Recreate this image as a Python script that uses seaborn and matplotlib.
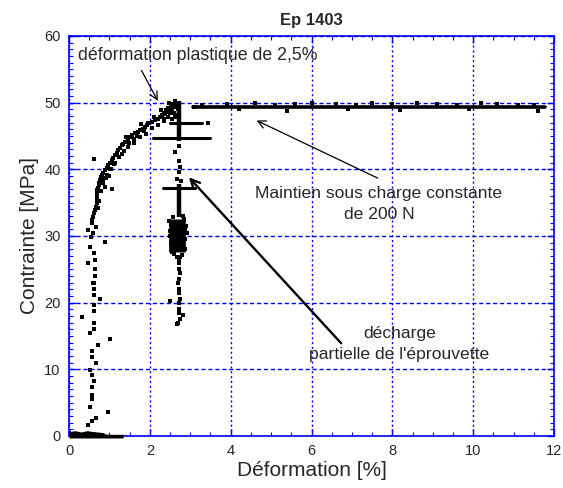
import numpy as np
import pandas as pd
import matplotlib
matplotlib.use("Agg")
import matplotlib.pyplot as plt
import seaborn as sns

sns.set_theme(style="white")
plt.rcParams['font.family'] = ['Liberation Sans', 'DejaVu Sans']

# ---------------- data ----------------
title = "Ep 1403"
x_label = "Déformation [%]"
y_label = "Contrainte [MPa]"
x_ticks = [0, 2, 4, 6, 8, 10, 12]
y_ticks = [0, 10, 20, 30, 40, 50, 60]

# loading curve (upper part, band of points)
load_x = [2.66, 2.60, 2.54, 2.48, 2.42, 2.38, 2.31, 2.25, 2.19, 2.13, 2.05, 1.96, 1.92,
          1.88, 1.82, 1.76, 1.70, 1.63, 1.57, 1.51, 1.45, 1.39, 1.34, 1.30, 1.26, 1.22,
          1.18, 1.14, 1.10, 1.06, 1.01, 0.97, 0.93, 0.89, 0.85, 0.81, 0.79, 0.77, 0.75,
          0.73, 0.71, 0.69, 0.69, 0.70, 0.68, 0.69, 0.67, 0.64, 0.62, 0.60, 0.58, 0.56,
          2.50, 2.35, 2.20, 2.05, 1.90, 1.75, 1.60, 1.45, 1.30, 1.15, 1.05, 0.95, 0.85,
          0.80, 1.06, 0.89, 0.75, 0.72, 1.62, 1.36, 1.12, 0.98, 0.83,
          2.10, 1.85, 1.68, 1.48, 1.24, 1.02, 0.91, 1.40, 1.78, 2.28]
load_y = [49.6, 49.3, 49.1, 48.8, 48.6, 48.4, 48.1, 47.9, 47.6, 47.4, 47.1, 46.9, 46.6,
          46.4, 46.1, 45.9, 45.6, 45.4, 45.1, 44.9, 44.5, 44.1, 43.8, 43.6, 43.2, 42.9,
          42.5, 42.1, 41.7, 41.4, 41.0, 40.6, 40.2, 39.9, 39.5, 39.1, 38.8, 38.4, 38.0,
          37.6, 37.2, 36.9, 36.4, 35.9, 35.4, 34.9, 34.4, 33.9, 33.4, 32.9, 32.4, 31.9,
          48.4, 47.6, 46.6, 46.2, 45.3, 44.8, 44.0, 43.4, 42.3, 41.0, 40.0, 39.2, 37.9,
          36.8, 37.1, 37.4, 35.2, 34.2, 44.6, 42.8, 40.8, 39.0, 38.6,
          47.9, 45.8, 45.0, 43.9, 41.9, 40.1, 38.7, 44.9, 46.8, 48.9]

# top blob near the yield point
top_x = [2.62, 2.68, 2.58, 2.52, 2.46, 2.56, 2.64, 2.40, 2.34, 2.50, 2.60, 2.44, 2.28,
         2.36, 2.54, 2.20, 2.62, 2.70, 2.66, 2.48]
top_y = [50.2, 50.0, 49.8, 49.6, 49.2, 49.0, 49.4, 48.9, 48.3, 48.6, 48.5, 47.9, 47.8,
         47.3, 47.6, 47.6, 47.9, 49.0, 48.2, 50.0]

# steep initial part and outliers
low_x = [0.63, 0.48, 0.89, 0.52, 0.48, 0.63, 0.64, 0.64, 0.64, 0.60, 0.62, 0.62, 0.62,
         0.77, 0.62, 0.62, 0.33, 0.62, 0.62, 0.52, 1.01, 0.71, 0.58, 0.58, 0.66, 0.52,
         0.58, 0.62, 0.58, 0.58, 0.58, 0.52, 0.96, 0.66, 0.58, 0.48, 0.55, 0.60, 0.66]
low_y = [41.5, 30.9, 29.1, 28.4, 25.9, 27.4, 26.4, 24.0, 25.0, 23.0, 22.9, 22.0, 21.2,
         20.5, 19.6, 18.7, 17.9, 17.0, 16.1, 15.4, 14.6, 13.6, 12.8, 11.9, 10.9, 9.9,
         9.1, 8.3, 7.3, 6.2, 5.6, 4.4, 3.6, 2.7, 2.2, 1.6, 29.8, 30.4, 31.4]

# foot of the curve (dense cluster at zero stress)
foot_x = [0.00, 0.05, 0.15, 0.30, 0.45, 0.55, 0.70, 0.85, 0.90, 1.00, 1.34]
foot_top = [0.9, 0.7, 0.8, 0.6, 0.8, 0.7, 0.6, 0.5, 0.3, 0.25, 0.25]

# unloading column: dense segments (x, y start, y end)
col_x = [2.72, 2.72]
col_y0 = [44.2, 32.8]
col_y1 = [50.2, 37.8]
# dense cluster of the partial unloading
clus_x = [2.68]
clus_y0 = [27.6]
clus_y1 = [32.6]
clus_pts_x = [2.47, 2.50, 2.90, 2.88, 2.52, 2.86, 2.55, 2.84, 2.49, 2.91, 2.60, 2.80,
              2.53, 2.87, 2.58, 2.82, 2.66, 2.74]
clus_pts_y = [32.2, 30.8, 31.5, 29.6, 28.9, 28.1, 27.6, 32.6, 30.0, 30.5, 27.3, 27.2,
              31.8, 31.0, 32.8, 33.0, 26.9, 26.8]
# partial unloading horizontal bars (y, x start, x end)
bar_y = [47.0, 44.7, 37.2]
bar_x0 = [2.50, 2.09, 2.33]
bar_x1 = [3.28, 3.49, 3.12]
# sparse points of the unloading path
unl_x = [2.62, 2.72, 2.74, 2.72, 2.68, 2.76, 3.44, 2.72, 2.73, 2.71, 2.74, 2.72, 2.70,
         2.73, 2.72, 2.74, 2.71, 2.73, 2.72, 2.75, 2.70, 2.50, 2.66, 2.81, 2.72]
unl_y = [42.6, 41.2, 40.3, 39.6, 38.6, 38.2, 47.0, 26.6, 25.9, 25.1, 24.4, 23.6, 22.9,
         22.1, 21.4, 20.6, 19.9, 19.1, 18.4, 17.6, 16.9, 20.3, 16.8, 18.1, 43.5]

# plateau under constant load
plat_x = [3.07, 11.78]
plat_y = [49.4, 49.4]
platpts_x = [3.3, 3.9, 4.6, 5.1, 5.6, 6.0, 6.6, 7.1, 7.5, 8.0, 8.6, 9.1, 9.6, 10.2,
             10.6, 11.1, 11.5, 5.4, 8.2, 11.6, 4.2, 6.9, 9.9, 3.1]
platpts_y = [49.7, 49.8, 49.9, 49.7, 49.8, 50.0, 49.8, 49.7, 49.9, 49.8, 50.0, 49.8,
             49.7, 49.9, 49.8, 49.7, 49.6, 48.8, 48.9, 48.7, 49.1, 49.1, 49.1, 49.4]

# ---------------- figure ----------------
fig = plt.figure(figsize=(5.63, 4.88), dpi=100)
ax = fig.add_axes([0.1226, 0.1066, 0.8614, 0.8197])

blue = "#0000ee"
ms = 7

pts = pd.DataFrame({"x": load_x + top_x + low_x + clus_pts_x + unl_x + platpts_x,
                    "y": load_y + top_y + low_y + clus_pts_y + unl_y + platpts_y})
sns.scatterplot(data=pts, x="x", y="y", ax=ax, marker="s", s=ms, color="black",
                linewidth=0, zorder=4, clip_on=False)

ax.fill_between(foot_x, [-0.3] * len(foot_x), foot_top, color="black", lw=0,
                zorder=4, clip_on=False)
for x, a, b in zip(col_x, col_y0, col_y1):
    ax.plot([x, x], [a, b], color="black", lw=3.2, zorder=4, solid_capstyle="butt")
for x, a, b in zip(clus_x, clus_y0, clus_y1):
    ax.plot([x, x], [a, b], color="black", lw=12, zorder=4, solid_capstyle="butt")
for y, a, b in zip(bar_y, bar_x0, bar_x1):
    ax.plot([a, b], [y, y], color="black", lw=2.2, zorder=4)
sns.lineplot(x=plat_x, y=plat_y, ax=ax, color="black", lw=2.6, zorder=4)

ax.set_xlim(0, 12)
ax.set_ylim(0, 60)
ax.set_xticks(x_ticks)
ax.set_yticks(y_ticks)
ax.set_xticklabels([str(t) for t in x_ticks], fontsize=10.5)
ax.set_yticklabels([str(t) for t in y_ticks], fontsize=10.5)
ax.set_xticks(np.arange(0, 12.01, 0.5), minor=True)
ax.set_yticks(np.arange(0, 60.01, 1), minor=True)
ax.tick_params(which="both", direction="in", color=blue, top=True, right=True,
               left=True, bottom=True, pad=6)
ax.tick_params(which="major", length=5, width=1)
ax.tick_params(which="minor", length=3, width=0.8)
for s in ax.spines.values():
    s.set_color(blue)
    s.set_linewidth(1.2)
ax.xaxis.grid(True, color=blue, linestyle=(0, (1.5, 2)), lw=1.0)
ax.yaxis.grid(True, color=blue, linestyle=(0, (3, 2)), lw=1.0)
ax.set_axisbelow(True)

ax.set_title(title, fontsize=12, fontweight="bold", pad=8)
ax.set_xlabel(x_label, fontsize=15, labelpad=2)
ax.set_ylabel(y_label, fontsize=15, labelpad=4)

# annotations
ax.text(3.18, 57.1, "déformation plastique de 2,5%", fontsize=12.8, ha="center",
        va="center", zorder=6)
ax.annotate("", xy=(2.23, 49.9), xytext=(1.76, 55.2),
            arrowprops=dict(arrowstyle="->", lw=0.9, color="black", mutation_scale=14))
ax.text(7.67, 34.8, "Maintien sous charge constante\nde 200 N", fontsize=12.6,
        ha="center", va="center", linespacing=1.45, zorder=6)
ax.annotate("", xy=(4.58, 47.5), xytext=(7.70, 38.5),
            arrowprops=dict(arrowstyle="->", lw=0.9, color="black", mutation_scale=14))
ax.text(8.17, 13.8, "décharge\npartielle de l'éprouvette", fontsize=12.6,
        ha="center", va="center", linespacing=1.45, zorder=6)
ax.annotate("", xy=(2.92, 39.1), xytext=(6.78, 13.6),
            arrowprops=dict(arrowstyle="->", lw=1.7, color="black", mutation_scale=16))

fig.savefig("out.png", dpi=100)
